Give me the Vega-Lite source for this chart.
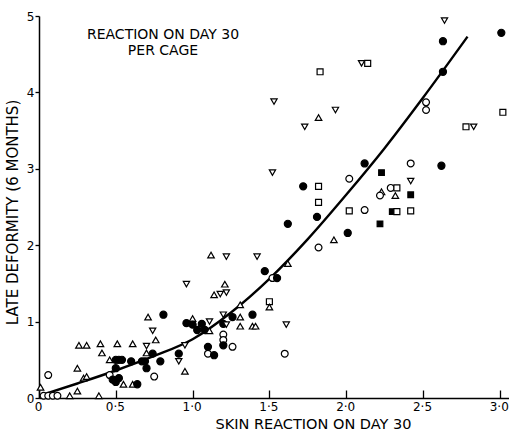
{
"$schema": "https://vega.github.io/schema/vega-lite/v6.json",
"width": 470, "height": 382,
"autosize": "none",
"padding": {"left": 39, "top": 16, "right": 0, "bottom": 35},
"background": "white",
"config": {"view": {"stroke": null}, "font": "DejaVu Sans"},
"title": {"text": ["REACTION ON DAY 30", "PER CAGE"], "anchor": "start", "align": "center", "frame": "group", "dx": 124, "offset": -48, "fontSize": 14, "fontWeight": "normal", "lineHeight": 16, "color": "black"},
"encoding": {
  "x": {"field": "x", "type": "quantitative", "scale": {"domain": [0, 3.06], "nice": false, "zero": false},
    "axis": {"values": [0, 0.5, 1, 1.5, 2, 2.5, 3], "labelExpr": "datum.value == 0 ? '0' : replace(format(datum.value, '.1f'), '.', '·')", "grid": false, "domainColor": "black", "domainWidth": 1.5, "tickColor": "black", "tickWidth": 1.3, "tickSize": -8, "labelPadding": 11, "labelFontSize": 12, "labelOffset": -1, "labelColor": "black", "labelFlush": false, "title": "SKIN REACTION ON DAY 30", "titleFontSize": 14.5, "titleFontWeight": "normal", "titleColor": "black", "titleX": 274, "titleY": 30, "titleAlign": "center", "titleBaseline": "alphabetic"}},
  "y": {"field": "y", "type": "quantitative", "scale": {"domain": [0, 5], "nice": false, "zero": false},
    "axis": {"values": [0, 1, 2, 3, 4, 5], "grid": false, "domainColor": "black", "domainWidth": 1.5, "tickColor": "black", "tickWidth": 1.3, "tickSize": 4, "labelPadding": 1, "labelFontSize": 12, "labelColor": "black", "labelFlush": false, "title": "LATE DEFORMITY (6 MONTHS)", "titleFontSize": 15, "titleFontWeight": "normal", "titleColor": "black", "titleX": -22, "titleY": 196, "titleAlign": "center", "titleBaseline": "alphabetic", "titleAngle": -90}}
},
"layer": [
  {"data": {"values": [
    {"x": 0.02, "y": 0.04}, {"x": 0.25, "y": 0.19}, {"x": 0.5, "y": 0.36}, {"x": 0.75, "y": 0.55},
    {"x": 1.0, "y": 0.77}, {"x": 1.25, "y": 1.12}, {"x": 1.5, "y": 1.56}, {"x": 1.75, "y": 2.08},
    {"x": 2.0, "y": 2.66}, {"x": 2.25, "y": 3.27}, {"x": 2.5, "y": 3.93}, {"x": 2.79, "y": 4.73}]},
   "mark": {"type": "line", "color": "black", "strokeWidth": 2.4, "interpolate": "monotone"}},
  {"data": {"values": [
    {"s":"tu","x":0.01,"y":0.14},{"s":"oc","x":0.03,"y":0.03},{"s":"oc","x":0.06,"y":0.03},{"s":"oc","x":0.09,"y":0.03},{"s":"oc","x":0.12,"y":0.03},
    {"s":"oc","x":0.06,"y":0.30},{"s":"tu","x":0.20,"y":0.03},{"s":"tu","x":0.25,"y":0.09},{"s":"tu","x":0.25,"y":0.39},{"s":"tu","x":0.26,"y":0.69},
    {"s":"tu","x":0.31,"y":0.69},{"s":"tu","x":0.29,"y":0.26},{"s":"tu","x":0.31,"y":0.28},{"s":"tu","x":0.39,"y":0.03},{"s":"tu","x":0.40,"y":0.71},
    {"s":"tu","x":0.41,"y":0.59},{"s":"tu","x":0.46,"y":0.50},{"s":"fc","x":0.50,"y":0.50},{"s":"fc","x":0.52,"y":0.50},{"s":"fc","x":0.54,"y":0.50},
    {"s":"tu","x":0.51,"y":0.71},{"s":"fc","x":0.50,"y":0.39},{"s":"oc","x":0.46,"y":0.30},{"s":"fc","x":0.48,"y":0.24},{"s":"fc","x":0.50,"y":0.21},
    {"s":"fc","x":0.52,"y":0.26},{"s":"tu","x":0.55,"y":0.18},{"s":"tu","x":0.61,"y":0.18},{"s":"fc","x":0.64,"y":0.18},{"s":"fc","x":0.60,"y":0.48},
    {"s":"tu","x":0.61,"y":0.71},{"s":"fc","x":0.67,"y":0.48},{"s":"fc","x":0.69,"y":0.48},{"s":"fc","x":0.70,"y":0.39},{"s":"oc","x":0.75,"y":0.28},
    {"s":"tu","x":0.71,"y":1.06},{"s":"fc","x":0.81,"y":1.09},{"s":"td","x":0.74,"y":0.88},{"s":"tu","x":0.76,"y":0.76},{"s":"td","x":0.70,"y":0.68},
    {"s":"tu","x":0.70,"y":0.59},{"s":"fc","x":0.74,"y":0.58},{"s":"fc","x":0.79,"y":0.48},{"s":"fc","x":0.91,"y":0.58},{"s":"td","x":0.91,"y":0.48},
    {"s":"td","x":0.95,"y":0.69},{"s":"tu","x":0.95,"y":0.35},{"s":"fc","x":0.96,"y":0.98},{"s":"tu","x":1.00,"y":1.04},{"s":"fc","x":1.00,"y":0.96},
    {"s":"fc","x":1.03,"y":0.89},{"s":"fc","x":1.06,"y":0.97},{"s":"fc","x":1.08,"y":0.89},{"s":"td","x":1.11,"y":1.00},{"s":"tu","x":1.11,"y":0.88},
    {"s":"td","x":1.20,"y":1.09},{"s":"fc","x":1.20,"y":0.97},{"s":"td","x":1.22,"y":0.96},{"s":"fc","x":1.26,"y":1.06},{"s":"tu","x":1.31,"y":1.06},
    {"s":"fc","x":1.39,"y":1.09},{"s":"tu","x":1.31,"y":0.94},{"s":"tu","x":1.39,"y":0.94},{"s":"tu","x":1.41,"y":0.94},{"s":"oc","x":1.20,"y":0.83},
    {"s":"oc","x":1.20,"y":0.76},{"s":"fc","x":1.20,"y":0.69},{"s":"oc","x":1.26,"y":0.67},{"s":"fc","x":1.10,"y":0.67},{"s":"oc","x":1.10,"y":0.58},
    {"s":"fc","x":1.14,"y":0.56},{"s":"tu","x":1.31,"y":1.22},{"s":"os","x":1.50,"y":1.26},{"s":"tu","x":1.50,"y":1.19},{"s":"td","x":0.96,"y":1.49},
    {"s":"tu","x":1.21,"y":1.49},{"s":"tu","x":1.14,"y":1.35},{"s":"td","x":1.18,"y":1.36},{"s":"td","x":1.22,"y":1.38},{"s":"tu","x":1.12,"y":1.87},
    {"s":"td","x":1.22,"y":1.85},{"s":"td","x":1.42,"y":1.85},{"s":"fc","x":1.47,"y":1.66},{"s":"oc","x":1.52,"y":1.57},{"s":"fc","x":1.55,"y":1.57},
    {"s":"tu","x":1.62,"y":1.76},{"s":"td","x":1.61,"y":0.96},{"s":"oc","x":1.60,"y":0.58},
    {"s":"os","x":1.83,"y":4.27},{"s":"td","x":2.10,"y":4.38},{"s":"os","x":2.14,"y":4.38},{"s":"td","x":1.53,"y":3.88},{"s":"tu","x":1.82,"y":3.67},
    {"s":"td","x":1.93,"y":3.77},{"s":"td","x":1.73,"y":3.55},{"s":"td","x":1.52,"y":2.95},{"s":"fc","x":1.72,"y":2.77},{"s":"os","x":1.82,"y":2.77},
    {"s":"os","x":1.82,"y":2.56},{"s":"oc","x":2.02,"y":2.87},{"s":"fc","x":2.12,"y":3.07},{"s":"fc","x":1.62,"y":2.28},{"s":"fc","x":1.81,"y":2.37},
    {"s":"os","x":2.02,"y":2.45},{"s":"oc","x":2.12,"y":2.46},{"s":"fc","x":2.01,"y":2.16},{"s":"tu","x":1.92,"y":2.07},{"s":"oc","x":1.82,"y":1.97},
    {"s":"td","x":2.64,"y":4.94},{"s":"fc","x":2.63,"y":4.67},{"s":"fc","x":3.01,"y":4.78},{"s":"fc","x":2.63,"y":4.27},{"s":"oc","x":2.52,"y":3.87},
    {"s":"oc","x":2.52,"y":3.77},{"s":"os","x":3.02,"y":3.74},{"s":"os","x":2.78,"y":3.55},{"s":"td","x":2.83,"y":3.55},{"s":"oc","x":2.42,"y":3.07},
    {"s":"fc","x":2.62,"y":3.04},{"s":"fs","x":2.23,"y":2.95},{"s":"td","x":2.42,"y":2.84},{"s":"oc","x":2.29,"y":2.75},{"s":"os","x":2.33,"y":2.75},
    {"s":"tu","x":2.23,"y":2.70},{"s":"oc","x":2.22,"y":2.65},{"s":"tu","x":2.32,"y":2.65},{"s":"fs","x":2.42,"y":2.66},{"s":"fs","x":2.30,"y":2.44},
    {"s":"os","x":2.33,"y":2.44},{"s":"os","x":2.42,"y":2.45},{"s":"fs","x":2.22,"y":2.28}]},
   "mark": {"type": "point", "filled": true, "stroke": "black", "strokeWidth": 1.2, "opacity": 1},
   "encoding": {
     "shape": {"field": "s", "type": "nominal", "legend": null, "scale": {"domain": ["fc","oc","tu","td","os","fs"], "range": ["circle","circle","triangle-up","triangle-down","square","square"]}},
     "fill": {"field": "s", "type": "nominal", "legend": null, "scale": {"domain": ["fc","oc","tu","td","os","fs"], "range": ["black","white","white","white","white","black"]}},
     "size": {"field": "s", "type": "nominal", "legend": null, "scale": {"domain": ["fc","oc","tu","td","os","fs"], "range": [50, 32, 42, 42, 38, 42]}}
   }}
]
}
